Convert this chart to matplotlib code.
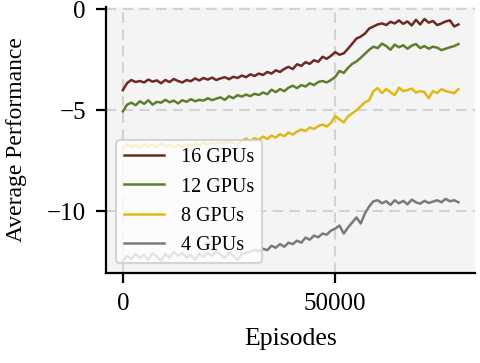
import numpy as np
import matplotlib
matplotlib.use("Agg")
import matplotlib.pyplot as plt

plt.rcParams["font.family"] = ["Liberation Serif", "DejaVu Serif"]

# episodes, one sample every 1000
episodes = np.arange(80) * 1000

gpu16 = [-4.00, -3.65, -3.50, -3.60, -3.55, -3.62, -3.48, -3.58, -3.52, -3.66,
         -3.50, -3.60, -3.45, -3.55, -3.62, -3.50, -3.56, -3.42, -3.52, -3.40,
         -3.48, -3.38, -3.50, -3.42, -3.36, -3.46, -3.34, -3.40, -3.28, -3.36,
         -3.22, -3.30, -3.18, -3.25, -3.10, -3.18, -3.02, -3.10, -2.95, -2.85,
         -2.96, -2.72, -2.80, -2.62, -2.70, -2.52, -2.60, -2.35, -2.45, -2.30,
         -2.12, -2.25, -2.18, -1.95, -1.70, -1.45, -1.35, -1.20, -0.95, -0.85,
         -0.75, -0.70, -0.78, -0.62, -0.70, -0.55, -0.72, -0.60, -0.80, -0.52,
         -0.75, -0.48, -0.66, -0.58, -0.78, -0.70, -0.60, -0.55, -0.85, -0.75]

gpu12 = [-5.05, -4.72, -4.62, -4.75, -4.55, -4.68, -4.50, -4.72, -4.58, -4.62,
         -4.48, -4.60, -4.52, -4.66, -4.50, -4.58, -4.45, -4.55, -4.48, -4.52,
         -4.40, -4.50, -4.42, -4.36, -4.48, -4.30, -4.40, -4.25, -4.32, -4.22,
         -4.30, -4.18, -4.24, -4.12, -4.20, -3.98, -4.10, -3.95, -4.05, -3.88,
         -3.78, -3.90, -3.75, -3.82, -3.66, -3.75, -3.60, -3.55, -3.62, -3.50,
         -3.35, -3.05, -3.15, -2.90, -2.70, -2.58, -2.40, -2.20, -2.00, -1.85,
         -1.92, -1.70, -1.82, -2.00, -1.75, -1.88, -1.78, -1.95, -1.80, -1.72,
         -1.92, -1.82, -1.95, -1.85, -1.90, -2.02, -1.95, -1.88, -1.82, -1.72]

gpu8 = [-6.85, -6.70, -6.82, -6.72, -6.85, -6.65, -6.80, -6.70, -6.84, -6.62,
        -6.78, -6.72, -6.84, -6.70, -6.80, -6.68, -6.76, -6.64, -6.74, -6.62,
        -6.70, -6.60, -6.66, -6.58, -6.64, -6.56, -6.62, -6.70, -6.50, -6.40,
        -6.52, -6.38, -6.46, -6.30, -6.42, -6.25, -6.35, -6.18, -6.28, -6.10,
        -6.20, -6.05, -5.95, -6.02, -5.85, -5.92, -5.78, -5.70, -5.80, -5.62,
        -5.28, -5.45, -5.60, -5.30, -5.15, -5.00, -4.80, -4.60, -4.50, -4.05,
        -3.90, -4.15, -3.95, -4.10, -4.25, -3.88, -4.05, -4.00, -3.92, -4.12,
        -4.05, -4.10, -4.40, -4.05, -4.15, -3.95, -4.05, -4.10, -4.15, -3.95]

gpu4 = [-12.45, -12.20, -12.35, -12.10, -12.30, -12.15, -12.40, -12.05, -12.25, -12.45,
        -12.10, -12.30, -12.00, -12.20, -12.05, -12.30, -12.15, -12.40, -12.10, -12.25,
        -12.05, -12.20, -11.95, -12.15, -12.30, -12.05, -12.20, -12.40, -12.10, -12.05,
        -12.00, -11.90, -11.98, -11.85, -11.92, -11.70, -11.80, -11.62, -11.75, -11.55,
        -11.62, -11.45, -11.55, -11.30, -11.40, -11.20, -11.28, -11.10, -11.15, -10.95,
        -10.85, -10.70, -11.10, -10.80, -10.55, -10.30, -10.60, -10.10, -9.75, -9.50,
        -9.45, -9.60, -9.50, -9.68, -9.45, -9.60, -9.48, -9.65, -9.42, -9.55,
        -9.62, -9.48, -9.58, -9.52, -9.45, -9.55, -9.38, -9.50, -9.45, -9.55]

labels = ["16 GPUs", "12 GPUs", "8 GPUs", "4 GPUs"]
colors = ["#6e2a22", "#5f7d2d", "#e0b814", "#7a7a7a"]

fig = plt.figure(figsize=(4.8, 3.63), dpi=100)
ax = fig.add_axes([0.221, 0.248, 0.769, 0.733])
ax.set_facecolor("#f4f4f4")

for y, lab, c in zip([gpu16, gpu12, gpu8, gpu4], labels, colors):
    ax.plot(episodes, y, color=c, lw=1.8, label=lab)

ax.grid(True, color="#d2d2d2", ls=(0, (5, 3)), lw=1.5)
ax.set_axisbelow(True)
for s in ["top", "right"]:
    ax.spines[s].set_visible(False)
for s in ["left", "bottom"]:
    ax.spines[s].set_linewidth(1.6)

ax.set_xticks([0, 50000])
ax.set_yticks([0, -5, -10])
ax.tick_params(direction="out", length=7.5, width=1.6, labelsize=18, pad=7)
ax.set_xlabel("Episodes", fontsize=18.5)
ax.set_ylabel("Average Performance", fontsize=17)
ax.xaxis.set_label_coords(0.5, -0.205)
ax.xaxis.label.set_verticalalignment("top")
ax.yaxis.set_label_coords(-0.215, 0.5)

leg = ax.legend(loc="lower left", fontsize=14.5, frameon=True, fancybox=True,
                framealpha=0.8, edgecolor="#cccccc", handlelength=2.0,
                labelspacing=0.5)
leg.get_frame().set_linewidth(1.5)

fig.savefig("out.png", dpi=100)
